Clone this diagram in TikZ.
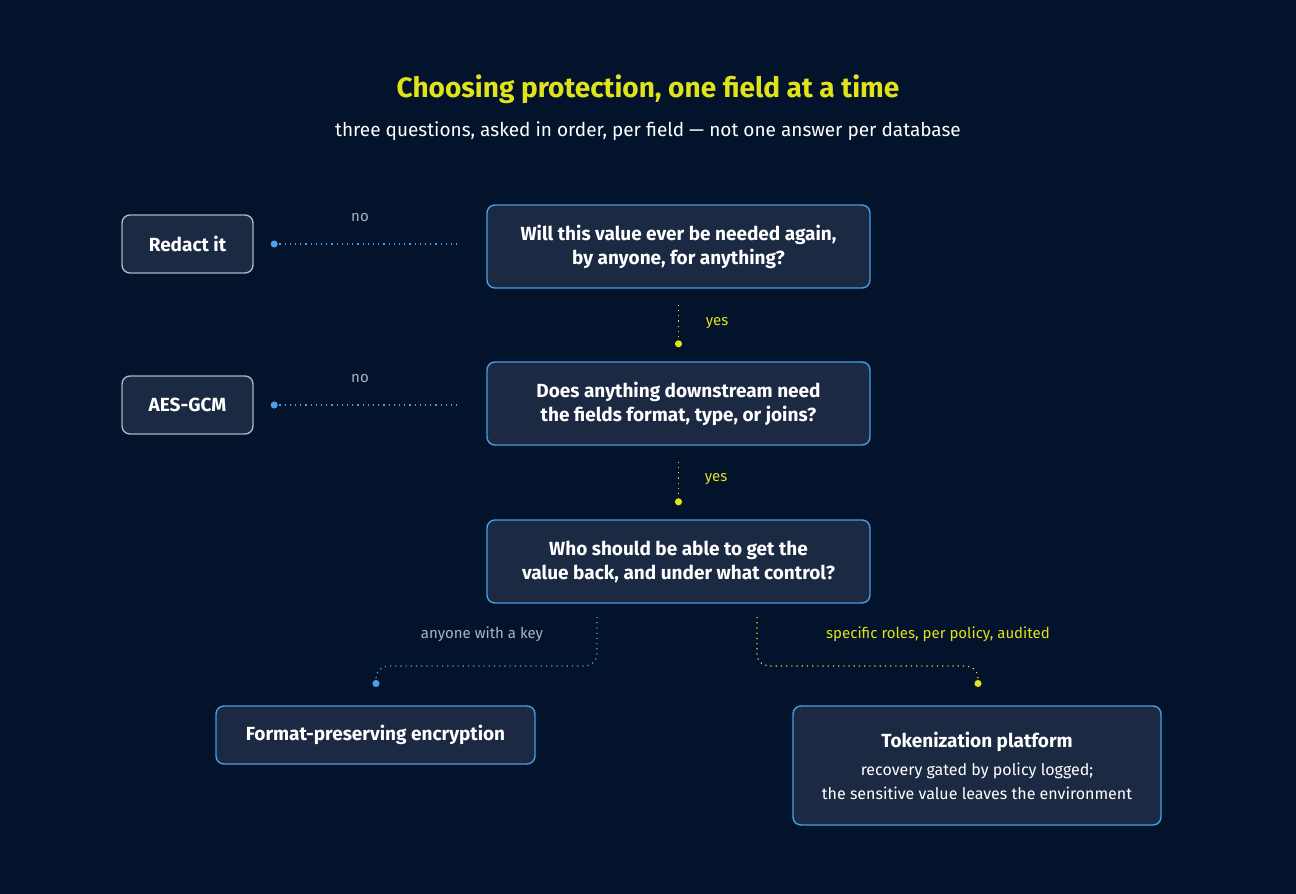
\documentclass[tikz,border=0pt]{standalone}
\usepackage{fontspec}
\setmainfont{Fira Sans}
\usetikzlibrary{arrows.meta,positioning}
\definecolor{bgcol}{HTML}{03132B}
\definecolor{boxfill}{HTML}{1B2A42}
\definecolor{boxblue}{HTML}{4A9BE0}
\definecolor{boxgray}{HTML}{A9B4C2}
\definecolor{ylw}{HTML}{E0E21A}
\definecolor{dotblue}{HTML}{4AA0F0}
\definecolor{lblgray}{HTML}{A8B4C4}
\begin{document}
\begin{tikzpicture}[x=0.5pt,y=-0.5pt,
    box/.style={draw=boxblue,fill=boxfill,rounded corners=4pt,line width=0.7pt,
      text=white,font=\bfseries\fontsize{9.5}{12}\selectfont,align=center,
      minimum width=191.5pt,minimum height=41.5pt,inner sep=0pt},
    end node/.style={box,draw=boxgray},
    no link/.style={dotblue,dotted,line width=0.6pt,-{Circle[length=3.5pt]}},
    yes link/.style={ylw,dotted,line width=0.6pt,-{Circle[length=3.5pt]}},
    lbl/.style={font=\fontsize{7.5}{9}\selectfont}]
  \fill[bgcol] (0,0) rectangle (1296,894);
  \node[text=ylw,font=\bfseries\fontsize{14}{16}\selectfont] (title) at (648,89) {Choosing protection, one field at a time};
  \node[text=white,font=\fontsize{9.5}{12}\selectfont] (sub) at (648,131) {three questions, asked in order, per field — not one answer per database};
  % questions
  \node[box] (q1) at (678.5,246.5) {Will this value ever be needed again,\\by anyone, for anything?};
  \node[box] (q2) at (678.5,403.5) {Does anything downstream need\\the fields format, type, or joins?};
  \node[box] (q3) at (678.5,561.5) {Who should be able to get the\\value back, and under what control?};
  % answers
  \node[end node,minimum width=65.5pt,minimum height=29pt] (redact) at (187.5,244) {Redact it};
  \node[end node,minimum width=65.5pt,minimum height=29pt] (aes) at (187.5,405) {AES-GCM};
  \node[box,minimum width=159.5pt,minimum height=29pt] (fpe) at (375.5,735) {Format-preserving encryption};
  \node[box,minimum width=184pt,minimum height=59.5pt] (token) at (977,765.5)
    {Tokenization platform\\[2pt]{\mdseries\fontsize{8}{12}\selectfont recovery gated by policy logged;}\\
     {\mdseries\fontsize{8}{12}\selectfont the sensitive value leaves the environment}};
  % no / yes links
  \draw[no link,shorten <=14.5pt,shorten >=8.5pt] (q1.west |- redact.east) -- (redact.east);
  \draw[no link,shorten <=14.5pt,shorten >=8.5pt] (q2.west |- aes.east) -- (aes.east);
  \draw[yes link,shorten <=8pt,shorten >=7pt] (q1.south) -- (q2.north);
  \draw[yes link,shorten <=8pt,shorten >=7pt] (q2.south) -- (q3.north);
  \node[lbl,text=lblgray] (no1) at (360,218) {no};
  \node[lbl,text=lblgray] (no2) at (360,379) {no};
  \node[lbl,text=ylw] (yes1) at (717,323) {yes};
  \node[lbl,text=ylw] (yes2) at (716,479) {yes};
  % last question
  \coordinate (lstart) at (597,617);
  \coordinate (lend) at (376,687);
  \coordinate (rstart) at (757,617);
  \coordinate (rend) at (978,687);
  \draw[no link,rounded corners=6pt] (lstart) |- (486,666) -| (lend);
  \draw[yes link,rounded corners=6pt] (rstart) |- (868,666) -| (rend);
  \node[lbl,text=lblgray] (anyone) at (482,634) {anyone with a key};
  \node[lbl,text=ylw] (roles) at (938,634) {specific roles, per policy, audited};
\end{tikzpicture}
\end{document}
